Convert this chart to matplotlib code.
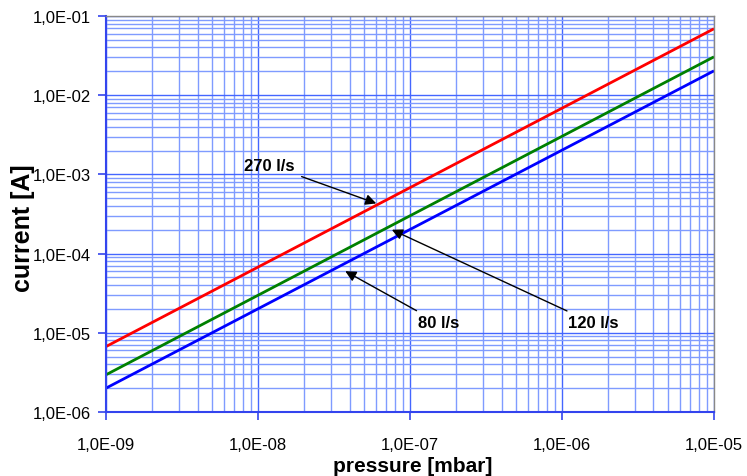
import numpy as np
import matplotlib.pyplot as plt
from matplotlib.ticker import LogLocator, FuncFormatter, NullFormatter

plt.rcParams['font.family'] = ['Liberation Sans', 'DejaVu Sans']

# pressure in mbar (straight lines on log-log, endpoints)
pressure = [1e-9, 1e-5]
current270 = [6.7e-6, 6.9e-2]
current120 = [2.95e-6, 3.05e-2]
current80 = [2.0e-6, 2.03e-2]

labels = ['270 l/s', '120 l/s', '80 l/s']
colors = ['#ff0000', '#008000', '#0000ff']

majorGrid = '#4466ff'
minorGrid = '#7f9bff'

fig = plt.figure(figsize=(7.47, 4.77), dpi=100)
ax = fig.add_axes([0.1419, 0.1342, 0.8139, 0.8302])

ax.set_xscale('log')
ax.set_yscale('log')
ax.set_xlim(1e-9, 1e-5)
ax.set_ylim(1e-6, 1e-1)

ax.xaxis.set_major_locator(LogLocator(base=10, numticks=10))
ax.yaxis.set_major_locator(LogLocator(base=10, numticks=10))
ax.xaxis.set_minor_locator(LogLocator(base=10, subs=np.arange(2, 10), numticks=20))
ax.yaxis.set_minor_locator(LogLocator(base=10, subs=np.arange(2, 10), numticks=20))
ax.xaxis.set_minor_formatter(NullFormatter())
ax.yaxis.set_minor_formatter(NullFormatter())

fmt = FuncFormatter(lambda v, pos: ('%.1E' % v).replace('.', ','))
ax.xaxis.set_major_formatter(fmt)
ax.yaxis.set_major_formatter(fmt)

ax.grid(True, which='major', color=majorGrid, lw=1.0)
ax.grid(True, which='minor', color=minorGrid, lw=1.0)
ax.set_axisbelow(True)

ax.tick_params(which='major', direction='out', length=6, width=1.2,
               color='#3344ee', labelsize=12, labelcolor='black')
ax.tick_params(axis='x', which='major', pad=12)
ax.tick_params(axis='y', which='major', pad=5)
ax.tick_params(which='minor', length=0)

for side in ['left', 'bottom']:
    ax.spines[side].set_color('#3344ee')
    ax.spines[side].set_linewidth(1.5)
for side in ['top', 'right']:
    ax.spines[side].set_color('#888888')
    ax.spines[side].set_linewidth(1.0)

for ys, col in zip([current270, current120, current80], colors):
    ax.plot(pressure, ys, color=col, lw=2.0, solid_capstyle='butt')

# axis titles placed in figure coords
fig.text(0.553, 0.0105, 'pressure [mbar]', fontsize=15, fontweight='bold',
         ha='center', va='baseline')
fig.text(0.0308, 0.522, 'current [A]', fontsize=18, fontweight='bold',
         ha='center', va='center', rotation=90)

arrow = dict(arrowstyle='-|>', color='black', lw=1.0, mutation_scale=16,
             shrinkA=3, shrinkB=0)
ax.annotate(labels[0], xy=(6.0e-8, 4.3e-4), xytext=(1.75e-8, 1.31e-3),
            ha='right', va='center', fontsize=12, fontweight='bold',
            arrowprops=arrow)
ax.annotate(labels[1], xy=(7.6e-8, 2.0e-4), xytext=(1.09e-6, 1.33e-5),
            ha='left', va='center', fontsize=12, fontweight='bold',
            arrowprops=arrow)
ax.annotate(labels[2], xy=(3.75e-8, 6.0e-5), xytext=(1.13e-7, 1.33e-5),
            ha='left', va='center', fontsize=12, fontweight='bold',
            arrowprops=arrow)

fig.savefig('out.png', dpi=100)
